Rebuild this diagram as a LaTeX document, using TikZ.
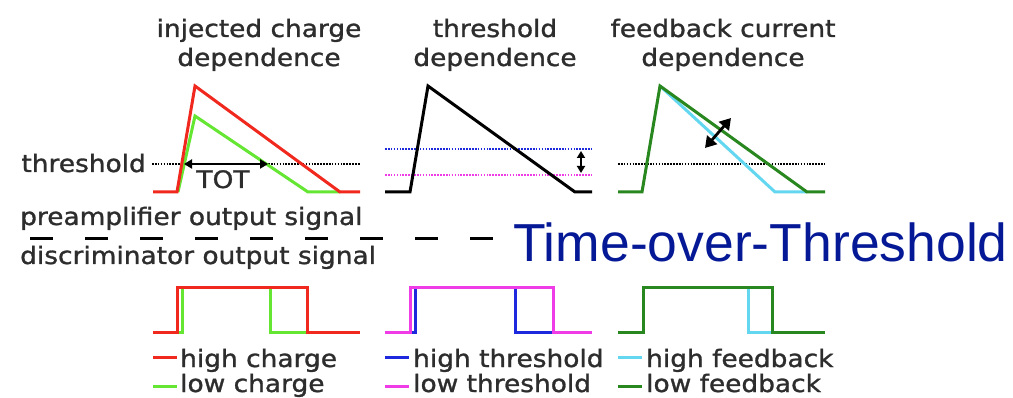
\documentclass[tikz,border=0pt]{standalone}
\usepackage{fontspec}
\usetikzlibrary{arrows.meta}
\newfontfamily\lab[FakeStretch=1.1,FakeBold=1.2]{DejaVu Sans}
\setmainfont{Liberation Sans}
\definecolor{cred}{RGB}{240,40,30}
\definecolor{clgreen}{RGB}{100,230,50}
\definecolor{cblue}{RGB}{30,40,220}
\definecolor{cmag}{RGB}{240,60,230}
\definecolor{ccyan}{RGB}{100,215,240}
\definecolor{cdgreen}{RGB}{40,135,30}
\definecolor{ctext}{RGB}{45,45,45}
\definecolor{ctitle}{RGB}{5,25,150}
\tikzset{
  sig/.style={line width=3pt},
  dotline/.style={line width=2.2pt, dash pattern=on 1.6pt off 1.3pt},
  lbl/.style={inner sep=0pt, text=ctext, font=\lab\fontsize{24}{28}\selectfont},
  dbl/.style={line width=2pt, {Triangle[length=8pt,width=9pt]}-{Triangle[length=8pt,width=9pt]}},
  legdash/.style={line width=3pt}
}
\begin{document}
\begin{tikzpicture}[x=1pt,y=-1pt]
\useasboundingbox[fill=white] (0,0) rectangle (1013,398);
% titles
\node[lbl,anchor=base] (t1a) at (259,37) {injected charge};
\node[lbl,anchor=base] (t1b) at (259,66) {dependence};
\node[lbl,anchor=base] (t2a) at (495,37) {threshold};
\node[lbl,anchor=base] (t2b) at (495,66) {dependence};
\node[lbl,anchor=base] (t3a) at (723,37) {feedback current};
\node[lbl,anchor=base] (t3b) at (723,66) {dependence};
% panel 1
\node[lbl,anchor=base east] (thr) at (146,172) {threshold};
\draw[dotline,black] (152,164) -- (360,164);
\draw[sig,clgreen] (178,192) -- (195,116) -- (308,192) -- (340,192);
\draw[sig,cred] (153,192) -- (177,192) -- (195,86) -- (340,192) -- (360,192);
\coordinate (tota) at (184,164);
\coordinate (totb) at (268,164);
\draw[dbl] (tota) -- (totb);
\node[lbl,anchor=base] (tot) at (223,188) {TOT};
% panel 2
\draw[dotline,cblue] (385,149) -- (592,149);
\draw[dotline,cmag] (385,175) -- (592,175);
\draw[sig,black] (385,192) -- (410,192) -- (428,86) -- (575,192) -- (592,192);
\coordinate (va) at (581,151);
\coordinate (vb) at (581,173);
\draw[line width=2.2pt,{Triangle[length=7pt,width=8pt]}-{Triangle[length=7pt,width=8pt]}] (va) -- (vb);
% panel 3
\draw[dotline,black] (618,164) -- (825,164);
\draw[sig,ccyan] (660,86) -- (775,192) -- (807,192);
\draw[sig,cdgreen] (618,192) -- (642,192) -- (660,86) -- (807,192) -- (825,192);
\coordinate (da) at (705,148);
\coordinate (db) at (731,118);
\draw[line width=2.8pt,{Triangle[length=11pt,width=13pt]}-{Triangle[length=11pt,width=13pt]}] (da) -- (db);
% middle
\node[lbl,anchor=base west] (pre) at (20,225) {preamplifier output signal};
\draw[line width=3pt, dash pattern=on 23pt off 32pt] (30,239) -- (493,239);
\node[lbl,anchor=base west] (dis) at (20,264) {discriminator output signal};
\node[anchor=base west, inner sep=0pt, text=ctitle, font=\fontsize{53.5}{60}\selectfont] (tot2) at (513,262) {Time-over-Threshold};
% pulses panel 1
\draw[sig,clgreen] (153,333) -- (182,333) -- (182,288) -- (270,288) -- (270,333) -- (360,333);
\draw[sig,cred] (153,333) -- (177,333) -- (177,288) -- (307,288) -- (307,333) -- (360,333);
% pulses panel 2
\draw[sig,cblue] (385,333) -- (415,333) -- (415,288) -- (515,288) -- (515,333) -- (592,333);
\draw[sig,cmag] (385,333) -- (410,333) -- (410,288) -- (553,288) -- (553,333) -- (592,333);
% pulses panel 3
\draw[sig,ccyan] (618,333) -- (643,333) -- (643,288) -- (748,288) -- (748,333) -- (825,333);
\draw[sig,cdgreen] (618,333) -- (643,333) -- (643,288) -- (772,288) -- (772,333) -- (825,333);
% legends
\draw[legdash,cred] (153,358) -- (177,358);
\node[lbl,anchor=base west] (l1a) at (180,367) {high charge};
\draw[legdash,clgreen] (153,386) -- (177,386);
\node[lbl,anchor=base west] (l1b) at (180,392) {low charge};
\draw[legdash,cblue] (385,358) -- (409,358);
\node[lbl,anchor=base west] (l2a) at (413,367) {high threshold};
\draw[legdash,cmag] (385,386) -- (409,386);
\node[lbl,anchor=base west] (l2b) at (413,392) {low threshold};
\draw[legdash,ccyan] (618,358) -- (642,358);
\node[lbl,anchor=base west] (l3a) at (646,367) {high feedback};
\draw[legdash,cdgreen] (618,386) -- (642,386);
\node[lbl,anchor=base west] (l3b) at (646,392) {low feedback};
\end{tikzpicture}
\end{document}
